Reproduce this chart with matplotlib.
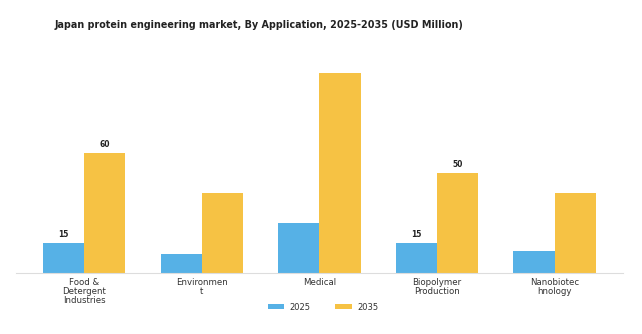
import matplotlib
matplotlib.use("Agg")
import matplotlib.pyplot as plt
import numpy as np

categories = ["Food &\nDetergent\nIndustries", "Environmen\nt", "Medical",
              "Biopolymer\nProduction", "Nanobiotec\nhnology"]
values_2025 = [15, 9.7, 25, 15, 10.8]
values_2035 = [60, 40, 100, 50, 40]
labels_2025 = ["15", "", "", "15", ""]
labels_2035 = ["60", "", "", "50", ""]
series_names = ["2025", "2035"]

blue = "#56B1E6"
yellow = "#F6C244"

fig = plt.figure(figsize=(6.42, 3.34), dpi=100)
ax = fig.add_axes([0.025, 0.183, 0.945, 0.637])

x = np.arange(len(categories))
w = 0.35
b1 = ax.bar(x - w / 2, values_2025, w, color=blue, label=series_names[0])
b2 = ax.bar(x + w / 2, values_2035, w, color=yellow, label=series_names[1])

for rect, lab in zip(b1, labels_2025):
    if lab:
        ax.text(rect.get_x() + rect.get_width() / 2, rect.get_height() + 2, lab,
                ha="center", va="bottom", fontsize=5.5, fontweight="bold", color="#222222")
for rect, lab in zip(b2, labels_2035):
    if lab:
        ax.text(rect.get_x() + rect.get_width() / 2, rect.get_height() + 2, lab,
                ha="center", va="bottom", fontsize=5.5, fontweight="bold", color="#222222")

ax.set_xlim(-0.58, 4.58)
ax.set_ylim(0, 106.5)
ax.set_xticks(x)
ax.set_xticklabels(categories, fontsize=6.2, color="#333333", linespacing=1.0)
ax.tick_params(axis="x", length=0, pad=4)
ax.set_yticks([])
for s in ["top", "right", "left"]:
    ax.spines[s].set_visible(False)
ax.spines["bottom"].set_color("#dddddd")
ax.spines["bottom"].set_linewidth(0.8)

fig.text(0.404, 0.925,
         "Japan protein engineering market, By Application, 2025-2035 (USD Million)",
         fontsize=6.9, fontweight="bold", ha="center", va="center", color="#222222")

fig.legend(handles=[b1, b2], labels=series_names, loc="center", bbox_to_anchor=(0.503, 0.08),
           ncol=2, frameon=False, fontsize=6, handlelength=2.0, handleheight=0.6,
           handletextpad=0.6, columnspacing=3.0, labelcolor="#333333")

fig.savefig("out.png", dpi=100)
